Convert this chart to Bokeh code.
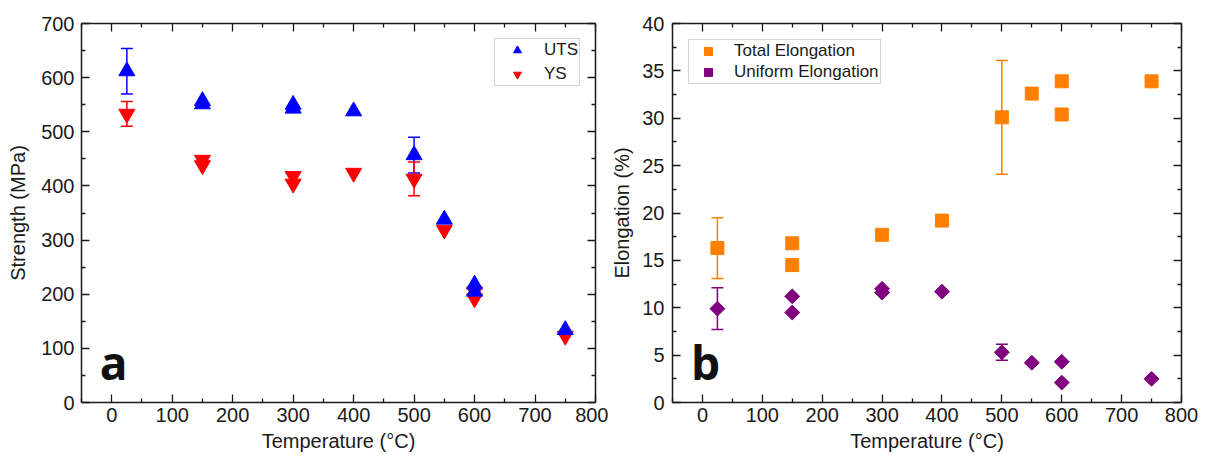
from bokeh.plotting import figure
from bokeh.models import (ColumnDataSource, Whisker, TeeHead, LinearAxis, FixedTicker,
                          Range1d, Legend, LegendItem, Label)
from bokeh.layouts import row
from bokeh.embed import file_html
from bokeh.resources import INLINE
import numpy as np

# ---------------- data ----------------
uts_temp = [25, 150, 150, 300, 300, 400, 500, 550, 600, 600, 750]
uts_val = [612, 557, 551, 550, 543, 538, 457, 338, 218, 205, 134]
uts_err = [42, 0, 0, 0, 0, 0, 33, 0, 0, 0, 0]

ys_temp = [25, 150, 150, 300, 300, 400, 500, 550, 600, 600, 750]
ys_val = [533, 448, 438, 418, 404, 424, 413, 319, 205, 192, 123]
ys_err = [23, 0, 0, 0, 0, 0, 31, 0, 0, 0, 0]

te_temp = [25, 150, 150, 300, 400, 500, 550, 600, 600, 750]
te_val = [16.3, 16.8, 14.5, 17.7, 19.2, 30.1, 32.6, 33.9, 30.4, 33.9]
te_err = [3.2, 0, 0, 0, 0, 6.0, 0, 0, 0, 0]

ue_temp = [25, 150, 150, 300, 300, 400, 500, 550, 600, 600, 750]
ue_val = [9.9, 11.2, 9.5, 12.0, 11.6, 11.7, 5.3, 4.2, 4.3, 2.1, 2.5]
ue_err = [2.2, 0, 0, 0, 0, 0, 0.85, 0, 0, 0, 0]

x_ticks = [0, 100, 200, 300, 400, 500, 600, 700, 800]
x_minor = [-50, 50, 150, 250, 350, 450, 550, 650, 750]
s_ticks = [0, 100, 200, 300, 400, 500, 600, 700]
s_minor = [50, 150, 250, 350, 450, 550, 650]
e_ticks = [0, 5, 10, 15, 20, 25, 30, 35, 40]
e_minor = [2.5, 7.5, 12.5, 17.5, 22.5, 27.5, 32.5, 37.5]

FONT = "Liberation Sans"
TICK_FS = "20px"
LABEL_FS = "20px"
INK = "#1a1a1a"


def style_common(ax):
    ax.axis_line_width = 1.5
    ax.axis_line_color = INK
    ax.major_tick_line_color = INK
    ax.minor_tick_line_color = INK
    ax.major_tick_line_width = 1.3
    ax.minor_tick_line_width = 1.3
    ax.major_tick_in = 8
    ax.major_tick_out = 0
    ax.minor_tick_in = 4
    ax.minor_tick_out = 0


def style_axes(p, xt, xm, yt, ym, y_std, y_lab_std):
    for ax in list(p.xaxis) + list(p.yaxis):
        style_common(ax)
        ax.major_label_text_font = FONT
        ax.major_label_text_font_size = TICK_FS
        ax.major_label_text_color = INK
        ax.axis_label_text_font = FONT
        ax.axis_label_text_font_size = LABEL_FS
        ax.axis_label_text_font_style = "normal"
        ax.axis_label_text_color = INK
    p.xaxis.ticker = FixedTicker(ticks=xt, minor_ticks=xm)
    p.yaxis.ticker = FixedTicker(ticks=yt, minor_ticks=ym)
    top = LinearAxis(ticker=FixedTicker(ticks=xt, minor_ticks=xm))
    right = LinearAxis(ticker=FixedTicker(ticks=yt, minor_ticks=ym))
    for ax in (top, right):
        style_common(ax)
        ax.major_label_text_font_size = "0px"
        ax.major_label_standoff = 0
    p.add_layout(top, "above")
    p.add_layout(right, "right")
    p.xaxis[0].major_label_standoff = 8
    p.xaxis[0].axis_label_standoff = 0
    p.yaxis[0].major_label_standoff = y_std
    p.yaxis[0].axis_label_standoff = y_lab_std


def make_fig(width, border_left, border_right, ylabel, yr):
    p = figure(width=width, height=456, output_backend="svg", toolbar_location=None,
               x_range=Range1d(-50, 800), y_range=yr,
               min_border_left=border_left, min_border_right=border_right,
               min_border_top=23, min_border_bottom=54)
    p.grid.visible = False
    p.outline_line_color = None
    p.xaxis.axis_label = "Temperature (°C)"
    p.yaxis.axis_label = ylabel
    return p


def add_err(p, x, y, e, color):
    xs = [a for a, d in zip(x, e) if d > 0]
    ys = [b for b, d in zip(y, e) if d > 0]
    es = [d for d in e if d > 0]
    src = ColumnDataSource(dict(x=xs, lo=[b - d for b, d in zip(ys, es)],
                                hi=[b + d for b, d in zip(ys, es)]))
    w = Whisker(source=src, base="x", lower="lo", upper="hi", dimension="height",
                line_color=color, line_width=1.5,
                upper_head=TeeHead(size=12, line_color=color, line_width=1.5),
                lower_head=TeeHead(size=12, line_color=color, line_width=1.5))
    p.add_layout(w)


# ---------------- panel a ----------------
pa = make_fig(608, 81, 13, "Strength (MPa)", Range1d(0, 700))
add_err(pa, uts_temp, uts_val, uts_err, "#0000FF")
add_err(pa, ys_temp, ys_val, ys_err, "#FF0000")
r_ys = pa.scatter(ys_temp, ys_val, marker="inverted_triangle", size=16,
                  fill_color="#FF0000", line_color="#FF0000")
r_uts = pa.scatter(uts_temp, uts_val, marker="triangle", size=16,
                   fill_color="#0000FF", line_color="#0000FF")
style_axes(pa, x_ticks, x_minor, s_ticks, s_minor, 7, 9)
leg_a = Legend(items=[LegendItem(label="UTS", renderers=[r_uts]),
                      LegendItem(label="YS", renderers=[r_ys])],
               location="top_right")
pa.add_layout(leg_a, "center")
pa.add_layout(Label(x=-20, y=17, text="a", text_font="Open Sans", text_baseline="bottom",
                    text_font_size="46px", text_font_style="bold", text_color="#111111"))

# ---------------- panel b ----------------
pb = make_fig(592, 63, 19, "Elongation (%)", Range1d(0, 40))
add_err(pb, te_temp, te_val, te_err, "#FF8000")
add_err(pb, ue_temp, ue_val, ue_err, "#800080")
r_te = pb.scatter(te_temp, te_val, marker="square", size=13,
                  fill_color="#FF8000", line_color="#FF8000")
r_ue = pb.scatter(ue_temp, ue_val, marker="square", size=10.5, angle=np.pi / 4,
                  fill_color="#800080", line_color="#800080")
style_axes(pb, x_ticks, x_minor, e_ticks, e_minor, 8, 6)
leg_b = Legend(items=[LegendItem(label="Total Elongation", renderers=[r_te]),
                      LegendItem(label="Uniform Elongation", renderers=[r_ue])],
               location="top_left")
pb.add_layout(leg_b, "center")
pb.add_layout(Label(x=-19, y=0.95, text="b", text_font="Open Sans", text_baseline="bottom",
                    text_font_size="46px", text_font_style="bold", text_color="#111111"))

for leg, m, sp, gw, st in ((leg_a, 15, 4, 42, 6), (leg_b, 16, 1, 36, 8)):
    leg.label_text_font = FONT
    leg.label_text_font_size = "17px"
    leg.label_text_color = INK
    leg.border_line_color = "#a8a8a8"
    leg.border_line_width = 1.5
    leg.background_fill_alpha = 1
    leg.glyph_width = gw
    leg.glyph_height = 20
    leg.label_height = 20
    leg.spacing = sp
    leg.padding = 1
    leg.margin = m
    leg.label_standoff = st

layout = row(pa, pb)
open("out.html", "w").write(file_html(layout, INLINE))
